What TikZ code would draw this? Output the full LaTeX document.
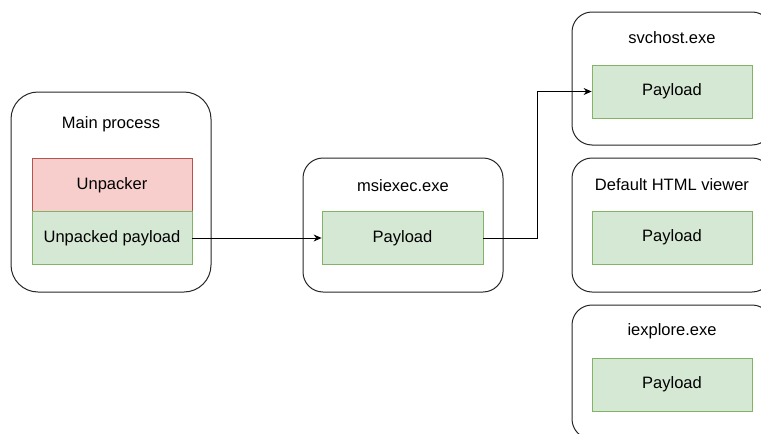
\documentclass[tikz,border=0pt]{standalone}
\usepackage{fontspec}
\setmainfont{Liberation Sans}
\usetikzlibrary{arrows.meta}
\definecolor{redfill}{HTML}{F8CECC}
\definecolor{redline}{HTML}{B85450}
\definecolor{greenfill}{HTML}{D5E8D4}
\definecolor{greenline}{HTML}{82B366}
\tikzset{
  proc/.style={draw=black!85, line width=1pt, rectangle, minimum width=200pt, inner sep=0pt},
  title/.style={font=\fontsize{16.5}{19}\selectfont, inner sep=0pt},
  redbox/.style={draw=redline, fill=redfill, line width=0.8pt, minimum width=160pt, minimum height=53pt, inner sep=0pt, font=\fontsize{16.5}{19}\selectfont},
  greenbox/.style={draw=greenline, fill=greenfill, line width=0.8pt, minimum width=160pt, minimum height=53pt, inner sep=0pt, font=\fontsize{16.5}{19}\selectfont},
  flow/.style={draw=black, line width=0.9pt},
  tip/.style={-{Stealth[length=8pt,width=7pt]}}
}
\begin{document}
\begin{tikzpicture}[x=1pt, y=-1pt]
\useasboundingbox (0,0) rectangle (761,434);
\clip (0,0) rectangle (761,434);

% main process with the unpacker stub
\node[proc, minimum height=200pt, rounded corners=27pt] (main) at (111,192) {};
\node[title] (mainT) at (111,124) {Main process};
\node[redbox, minimum height=54pt] (unp) at (112,185) {Unpacker};
\node[greenbox] (upay) at (112,238) {Unpacked payload};

% msiexec host
\node[proc, minimum height=134pt, rounded corners=20pt] (msi) at (403,225) {};
\node[title] (msiT) at (403,186) {msiexec.exe};
\node[greenbox, minimum width=161pt] (mpay) at (402.5,238) {Payload};

% injection targets
\node[proc, minimum height=133pt, rounded corners=20pt] (svc) at (672,78.5) {};
\node[title] (svcT) at (672,38) {svchost.exe};
\node[greenbox] (spay) at (672,91.5) {Payload};

\node[proc, minimum height=134pt, rounded corners=20pt] (html) at (672,225) {};
\node[title] (htmlT) at (672,185) {Default HTML viewer};
\node[greenbox] (hpay) at (672,237.5) {Payload};

\node[proc, minimum height=134pt, rounded corners=20pt] (iex) at (672,372) {};
\node[title] (iexT) at (672,331) {iexplore.exe};
\node[greenbox] (ipay) at (672,384.5) {Payload};

% connectors
\draw[flow, tip] (upay.east) -- (mpay.west);
\draw[flow, tip] (mpay.east) -- ++(54,0) |- (spay.west);
\end{tikzpicture}
\end{document}
